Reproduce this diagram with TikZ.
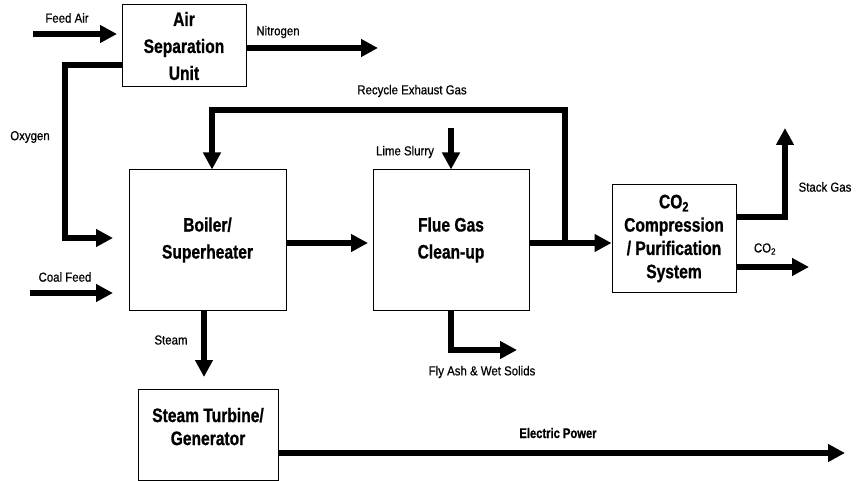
\documentclass[tikz,border=0pt]{standalone}
\usepackage{fontspec}
\setmainfont{Liberation Sans}[FakeStretch=0.88, FakeBold=0.6]
\newfontfamily\boxfont{Liberation Sans}[FakeStretch=0.8, FakeBold=0.8]
\usetikzlibrary{arrows.meta}
\tikzset{
  pipe/.style={line width=6pt, line join=miter},
  flow/.style={pipe, -{Triangle[length=17pt,width=17pt]}},
  blk/.style={draw, line width=1pt, align=center, inner sep=0pt,
    font=\boxfont\bfseries\fontsize{19.5}{27}\selectfont},
  lbl/.style={inner sep=0pt, font=\fontsize{13}{15}\selectfont},
}
\begin{document}
\begin{tikzpicture}[x=1pt,y=-1pt]
\useasboundingbox (0,0) rectangle (864,481);
% blocks
\node[blk, minimum width=124pt, minimum height=82pt] (asu) at (184,46) {Air\\Separation\\Unit};
\node[blk, minimum width=157pt, minimum height=140pt] (boil) at (207.5,240) {Boiler/\\Superheater};
\node[blk, minimum width=156pt, minimum height=140pt] (flue) at (451,240) {Flue Gas\\Clean-up};
\node[blk, minimum width=124pt, minimum height=107pt, font=\boxfont\bfseries\fontsize{19.5}{23.3}\selectfont] (co2) at (674,238.5) {CO\textsubscript{2}\\Compression\\/ Purification\\System};
\node[blk, minimum width=140pt, minimum height=91pt, text depth=16pt, font=\boxfont\bfseries\fontsize{19.5}{23}\selectfont] (turb) at (208,434.5) {Steam Turbine/\\Generator};
% coordinates
\coordinate (fa) at (33,34);
\coordinate (faT) at (117,34);
\coordinate (n2) at (378,48);
\coordinate (ox1) at (65,65);
\coordinate (ox2) at (65,238);
\coordinate (oxT) at (113,238);
\coordinate (cf) at (30,293);
\coordinate (cfT) at (113,293);
\coordinate (bf) at (368,243);
\coordinate (rc0) at (565,246);
\coordinate (rc1) at (565,110);
\coordinate (rc2) at (212,110);
\coordinate (ls) at (451,128);
\coordinate (sg1) at (785,217);
\coordinate (sg2) at (785,128);
\coordinate (c2) at (809,267);
\coordinate (st) at (204,0);
\coordinate (stT) at (204,377);
\coordinate (fl1) at (451,350);
\coordinate (fl2) at (517,350);
\coordinate (ep) at (845,453);
% connectors
\draw[flow] (fa) -- (faT);
\draw[flow] (asu.east |- n2) -- (n2);
\draw[flow] (asu.west |- ox1) -- (ox1) -- (ox2) -- (oxT);
\draw[flow] (cf) -- (cfT);
\draw[flow] (boil.east |- bf) -- (bf);
\draw[flow] (flue.east |- bf) -- (co2.west |- bf);
\draw[flow] (rc0) -- (rc1) -- (rc2) -- (boil.north -| rc2);
\draw[flow] (ls) -- (flue.north);
\draw[flow] (co2.east |- sg1) -- (sg1) -- (sg2);
\draw[flow] (co2.east |- c2) -- (c2);
\draw[flow] (boil.south -| st) -- (stT);
\draw[flow] (flue.south) -- (fl1) -- (fl2);
\draw[flow] (turb.east |- ep) -- (ep);
% labels
\node[lbl] (lfa) at (67,18) {Feed Air};
\node[lbl] (ln2) at (278,32) {Nitrogen};
\node[lbl] (lox) at (30,137) {Oxygen};
\node[lbl] (lcf) at (65,277) {Coal Feed};
\node[lbl] (lrc) at (412,91) {Recycle Exhaust Gas};
\node[lbl] (lls) at (405,152) {Lime Slurry};
\node[lbl] (lsg) at (825,187) {Stack Gas};
\node[lbl] (lc2) at (765,249) {CO\textsubscript{2}};
\node[lbl] (lst) at (171,340) {Steam};
\node[lbl] (lfl) at (482,372) {Fly Ash \& Wet Solids};
\node[lbl, font=\boxfont\bfseries\fontsize{14}{16}\selectfont] (lep) at (558,433) {Electric Power};
\end{tikzpicture}
\end{document}
